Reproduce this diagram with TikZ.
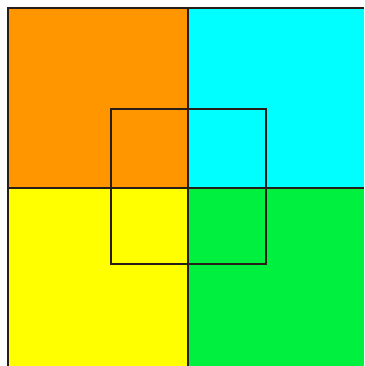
\documentclass[tikz,border=0pt]{standalone}
\definecolor{qorange}{RGB}{255,150,0}
\definecolor{qcyan}{RGB}{0,255,255}
\definecolor{qyellow}{RGB}{255,255,0}
\definecolor{qgreen}{RGB}{0,240,64}
\definecolor{qline}{RGB}{40,30,25}
\tikzset{edge/.style={draw=qline,line width=1.6pt}}
\begin{document}
\begin{tikzpicture}[x=1pt,y=-1pt]
\useasboundingbox (0,0) rectangle (364,366);
\fill[white] (0,0) rectangle (364,366);
\fill[qorange] (8,8) rectangle (188,188);
\fill[qcyan] (188,8) rectangle (364,188);
\fill[qyellow] (8,188) rectangle (188,366);
\fill[qgreen] (188,188) rectangle (364,366);
\draw[edge] (8,366) -- (8,8) -- (364,8);
\draw[edge] (188,8) -- (188,366);
\draw[edge] (8,188) -- (364,188);
\draw[edge] (111,109) rectangle (266,264);
\end{tikzpicture}
\end{document}
